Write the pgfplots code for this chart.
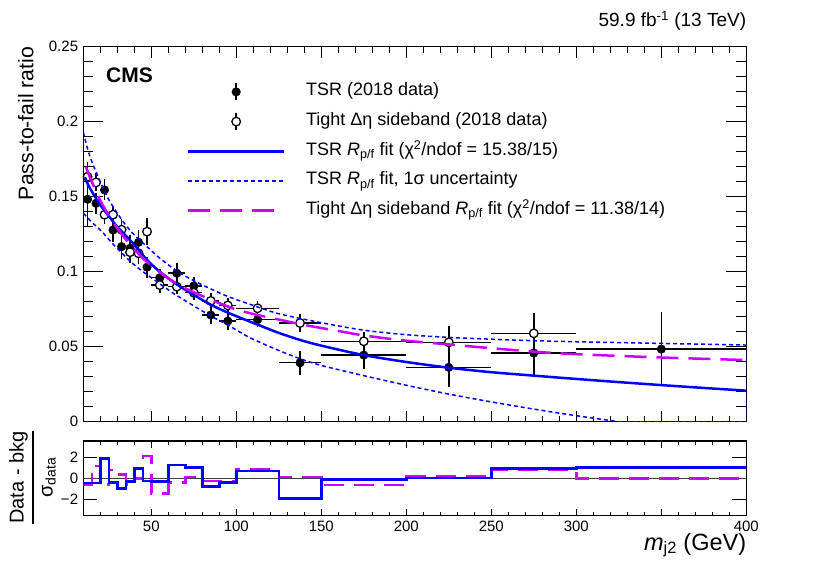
\documentclass[border=0pt]{standalone}
\usepackage{amsmath}
\usepackage{fontspec}
\setmainfont{Liberation Sans}
\usepackage{pgfplots}
\pgfplotsset{compat=1.18}
\usepackage{pgfplotstable}
\definecolor{mag}{RGB}{204,0,255}
\definecolor{rblue}{RGB}{0,0,255}

\pgfplotsset{
  datalegend/.style={legend image code/.code={\path[draw=none] (0pt,0pt) -- (96pt,0pt);
    \draw[overlay, black, line width=1.5pt] (48pt,-8.5pt) -- (48pt,8.5pt);
    \draw[##1] plot coordinates {(48pt,0pt)};}},
  linelegend/.style={legend image code/.code={\draw[##1] (0pt,0pt) -- (96pt,0pt);}},
}

\pgfplotstableread{
x ex y ey
12.5 2.5 0.1483 0.018
17.5 2.5 0.1456 0.007
22.5 2.5 0.1545 0.007
27.5 2.5 0.1278 0.008
32.5 2.5 0.1167 0.008
37.5 2.5 0.1156 0.009
42.5 2.5 0.1196 0.008
47.5 2.5 0.1030 0.007
55 5 0.0960 0.006
65 5 0.0990 0.007
75 5 0.0905 0.006
85 5 0.0711 0.006
95 5 0.0671 0.006
112.5 12.5 0.0680 0.005
137.5 12.5 0.0393 0.008
175 25 0.0444 0.009
225 25 0.0362 0.013
275 25 0.0458 0.0155
350 50 0.0484 0.0245
}\tsr

\pgfplotstableread{
x ex y ey
12.5 2.5 0.1633 0.010
17.5 2.5 0.1595 0.006
22.5 2.5 0.1380 0.006
27.5 2.5 0.1380 0.006
32.5 2.5 0.1280 0.007
37.5 2.5 0.1130 0.007
42.5 2.5 0.1123 0.007
47.5 2.5 0.1267 0.009
55 5 0.0911 0.005
65 5 0.0900 0.005
75 5 0.0860 0.005
85 5 0.0805 0.005
95 5 0.0775 0.005
112.5 12.5 0.0756 0.005
137.5 12.5 0.0658 0.006
175 25 0.0536 0.006
225 25 0.0529 0.011
275 25 0.0589 0.0135
}\side

\pgfplotstableread{
x r
10 -0.45
15 -0.45
20 1.87
25 -0.4
30 -0.97
35 -0.3
40 0.9
45 -0.25
50 -0.3
60 1.25
70 1.0
80 -0.78
90 -0.4
100 0.69
125 -1.9
150 -0.1
200 0.05
250 0.94
300 1.0
400 1.0
}\restsr

\pgfplotstableread{
x r
10 -0.56
15 1.15
20 -0.56
25 0.78
30 0.375
35 -0.56
40 0.0
45 2.1
50 -1.4
60 -0.4
70 0.12
80 -0.25
90 -0.3
100 0.84
125 0.12
150 -0.62
200 0.16
250 0.84
300 0.0
400 0.0
}\resside

\begin{document}
\begin{tikzpicture}
\path[use as bounding box] (0pt,0pt) rectangle (830pt,563pt);

\begin{axis}[
  at={(83.3pt,141.3pt)}, anchor=south west,
  scale only axis, width=663pt, height=375pt,
  xmin=10, xmax=400, ymin=0, ymax=0.25,
  xtick={50,100,150,200,250,300,350,400}, xticklabel=\empty,
  minor xtick={10,20,30,40,60,70,80,90,110,120,130,140,160,170,180,190,210,220,230,240,260,270,280,290,310,320,330,340,360,370,380,390},
  ytick={0,0.05,0.1,0.15,0.2,0.25},
  yticklabels={0,0.05,0.1,0.15,0.2,0.25},
  minor ytick={0.01,0.02,0.03,0.04,0.06,0.07,0.08,0.09,0.11,0.12,0.13,0.14,0.16,0.17,0.18,0.19,0.21,0.22,0.23,0.24},
  tick align=inside,
  axis line style={line width=1.5pt},
  tick style={line width=1pt, black},
  xtick style={/pgfplots/major tick length=11pt, /pgfplots/minor tick length=6pt},
  ytick style={/pgfplots/major tick length=20pt, /pgfplots/minor tick length=10pt},
  tick label style={font=\fontsize{15}{18}\selectfont},
  yticklabel style={inner sep=0pt, xshift=-5pt},
  clip mode=individual,
  legend cell align=left,
  legend style={draw=none, fill=none, at={(rel axis cs:0.156,0.904)}, anchor=north west,
    font=\fontsize{18}{21}\selectfont, row sep=11.7pt, inner sep=0pt,
    /tikz/every odd column/.append style={column sep=20.6pt},
    nodes={inner sep=0pt, text height=13pt, text depth=5pt}},
]
\addplot[only marks, black, mark=*, mark size=4.3pt, mark options={fill=black, draw=black},
  error bars/x dir=both, error bars/x explicit, error bars/y dir=both, error bars/y explicit,
  error bars/error mark=none, error bars/error bar style={line width=1.5pt, black},
  datalegend]
  table[x=x, y=y, x error=ex, y error=ey] {\tsr};
\addlegendentry{TSR (2018 data)}
\addplot[only marks, black, mark=*, mark size=4.3pt, mark options={fill=white, draw=black, line width=1.3pt},
  error bars/x dir=both, error bars/x explicit, error bars/y dir=both, error bars/y explicit,
  error bars/error mark=none, error bars/error bar style={line width=1.5pt, black},
  datalegend]
  table[x=x, y=y, x error=ex, y error=ey] {\side};
\addlegendentry{Tight Δη sideband (2018 data)}
\addplot[rblue, line width=2.5pt, smooth, no marks, linelegend] coordinates {
(11,0.163) (12,0.160) (15,0.1535) (20,0.1445) (25,0.137) (30,0.130) (35,0.124) (40,0.118)
(47.5,0.1078) (55,0.100) (65,0.0915) (75,0.0845) (85,0.0780) (95,0.0727) (105,0.0681)
(115,0.0636) (125,0.0592) (137.5,0.0545) (150,0.0507) (175,0.0444) (200,0.0398) (225,0.0360)
(250,0.0330) (275,0.0307) (300,0.0285) (325,0.0264) (350,0.0244) (375,0.0225) (400,0.0207)};
\addlegendentry{TSR \textit{R}\textsubscript{p/f} fit (χ\textsuperscript{2}/ndof = 15.38/15)}
\addplot[rblue, line width=1.5pt, smooth, no marks, dash pattern=on 4pt off 3pt, linelegend] coordinates {
(10,0.193) (12.5,0.182) (15,0.1735) (20,0.160) (25,0.148) (30,0.139) (35,0.131) (40,0.1245)
(47.5,0.1167) (55,0.109) (65,0.1005) (75,0.094) (85,0.0885) (95,0.0835) (110,0.0775)
(125,0.0720) (150,0.0660) (175,0.0610) (200,0.0580) (225,0.0562) (250,0.0550) (275,0.0540)
(300,0.0533) (350,0.0522) (400,0.0511)};
\addlegendentry{TSR \textit{R}\textsubscript{p/f} fit, 1σ uncertainty}
\addplot[rblue, line width=1.5pt, smooth, no marks, dash pattern=on 4pt off 3pt, forget plot] coordinates {
(10,0.139) (15,0.133) (21,0.1267) (27,0.119) (32.8,0.1123) (38,0.1065) (43.4,0.1015) (50,0.0960)
(63,0.0856) (75,0.0772) (85,0.0705) (95,0.0645) (108,0.0560) (125,0.0475) (137.5,0.0420)
(150,0.0375) (175,0.0307) (200,0.0243) (225,0.0184) (250,0.0132) (275,0.0084) (300,0.0040) (325,0.0)};
\addplot[rblue, line width=1.5pt, no marks, dash pattern=on 4pt off 3pt, forget plot] coordinates {
(325,0.0) (400,0.0) (400,0.0511)};
\addplot[mag, line width=2.5pt, smooth, no marks, dash pattern=on 22pt off 10pt, linelegend] coordinates {
(11.5,0.170) (15,0.160) (20,0.1475) (25,0.1375) (30,0.129) (35,0.1215) (40,0.115) (45,0.109)
(50,0.104) (60,0.0956) (70,0.0890) (80,0.0838) (90,0.0790) (100,0.0748) (110,0.0718)
(120,0.0693) (140,0.0645) (160,0.0605) (175,0.0575) (200,0.0540) (225,0.0515) (250,0.0490)
(275,0.0467) (300,0.0450) (350,0.0428) (400,0.0411)};
\addlegendentry{Tight Δη sideband \textit{R}\textsubscript{p/f} fit (χ\textsuperscript{2}/ndof = 11.38/14)}
\end{axis}

\begin{axis}[
  at={(83.3pt,47.3pt)}, anchor=south west,
  scale only axis, width=663pt, height=74.7pt,
  xmin=10, xmax=400, ymin=-3.5, ymax=3.5,
  xtick={50,100,150,200,250,300,350,400},
  xticklabels={50,100,150,200,250,300,,400},
  minor xtick={10,20,30,40,60,70,80,90,110,120,130,140,160,170,180,190,210,220,230,240,260,270,280,290,310,320,330,340,360,370,380,390},
  ytick={-2,0,2}, yticklabels={−2,0,2},
  tick align=inside,
  axis line style={line width=1.5pt},
  tick style={line width=1pt, black},
  xtick style={/pgfplots/major tick length=7pt, /pgfplots/minor tick length=4pt},
  ytick style={/pgfplots/major tick length=14pt},
  tick label style={font=\fontsize{15}{18}\selectfont},
  yticklabel style={inner sep=0pt, xshift=-5pt},
  xticklabel style={inner sep=0pt, yshift=-5pt},
]
\addplot[black!75, line width=0.8pt, no marks] coordinates {(10,0) (400,0)};
\addplot[mag, line width=2.5pt, const plot, no marks, dash pattern=on 20pt off 10pt] table[x=x, y=r] {\resside};
\addplot[rblue, line width=2.5pt, const plot, no marks] table[x=x, y=r] {\restsr};
\end{axis}

\node[anchor=base west, inner sep=0pt, font=\fontsize{21}{25}\selectfont\bfseries] at (106pt,480.3pt) {CMS};
\node[anchor=base east, inner sep=0pt, font=\fontsize{19}{23}\selectfont] at (746.3pt,536pt) {59.9 fb\textsuperscript{-1} (13 TeV)};
\node[rotate=90, anchor=base east, inner sep=0pt, font=\fontsize{21.2}{25}\selectfont] at (33.3pt,516.3pt) {Pass-to-fail ratio};
\node[anchor=base east, inner sep=0pt, font=\fontsize{23.5}{28}\selectfont] at (746.3pt,13pt) {\textit{m}\textsubscript{j2} (GeV)};
\node[rotate=90, inner sep=0pt, font=\fontsize{20}{24}\selectfont] at (32.5pt,85.5pt) {$\genfrac{}{}{1.5pt}{0}{\text{Data - bkg}}{\text{σ}_{\text{data}}}$};
\end{tikzpicture}
\end{document}
